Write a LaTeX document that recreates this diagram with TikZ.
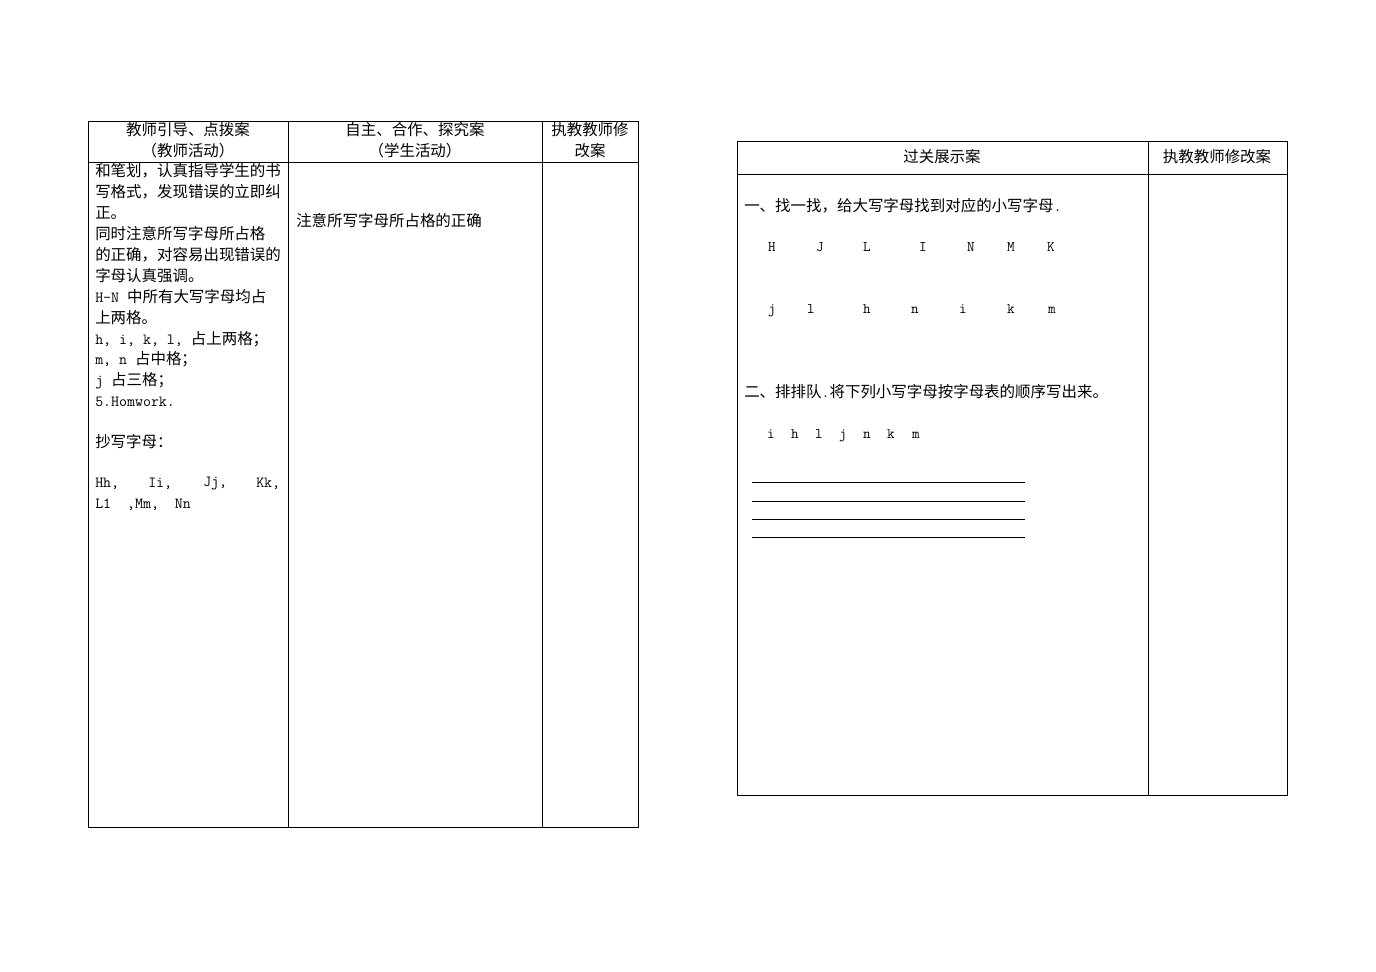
\documentclass[tikz,border=0pt]{standalone}
\usepackage{fontspec}
\setmainfont{Noto Sans CJK SC}
\newcommand{\latf}{\ttfamily}
\begin{document}
\begin{tikzpicture}[x=0.75pt,y=-0.75pt,
  grid/.style={draw=black,line width=0.6pt},
  txt/.style={inner sep=0pt,anchor=west,font=\fontsize{11.6}{13}\selectfont},
  ctxt/.style={inner sep=0pt,anchor=center,font=\fontsize{11.6}{13}\selectfont},
  ltr/.style={inner sep=0pt,anchor=center,text height=7pt,text depth=2pt,font=\latf\fontsize{11}{12}\selectfont},
  wline/.style={draw=black,line width=0.6pt}]
\useasboundingbox (0,0) rectangle (1376,971);
% left table
\draw[grid] (88,121) rectangle (638,827);
\draw[grid] (288,121) -- (288,827);
\draw[grid] (542,121) -- (542,827);
\draw[grid] (88,162) -- (638,162);
\node[ctxt] (h1a) at (188,130) {教师引导、点拨案};
\node[ctxt] (h1b) at (188,151) {（教师活动）};
\node[ctxt] (h2a) at (415,130) {自主、合作、探究案};
\node[ctxt] (h2b) at (415,151) {（学生活动）};
\node[ctxt] (h3a) at (590,130) {执教教师修};
\node[ctxt] (h3b) at (590,151) {改案};
\node[txt] (l1) at (95,171) {和笔划，认真指导学生的书};
\node[txt] (l2) at (95,192) {写格式，发现错误的立即纠};
\node[txt] (l3) at (95,213) {正。};
\node[txt] (l4) at (95,234) {同时注意所写字母所占格};
\node[txt] (l5) at (95,255) {的正确，对容易出现错误的};
\node[txt] (l6) at (95,276) {字母认真强调。};
\node[txt] (l7) at (95,297) {{\latf H-N }中所有大写字母均占};
\node[txt] (l8) at (95,318) {上两格。};
\node[txt] (l9) at (95,339) {{\latf h, i, k, l, }占上两格；};
\node[txt] (l10) at (95,359) {{\latf m, n }占中格；};
\node[txt] (l11) at (95,381) {{\latf j }占三格；};
\node[txt] (l12) at (95,402) {{\latf 5.Homwork.}};
\node[txt] (l13) at (95,442) {抄写字母：};
\node[txt] (l14a) at (95,484) {\latf Hh,};
\node[txt] (l14b) at (148,484) {\latf Ii,};
\node[txt] (l14c) at (203,484) {\latf Jj,};
\node[txt] (l14d) at (256,484) {\latf Kk,};
\node[txt] (l15) at (95,505) {\latf L1\ \ ,Mm,\ \ Nn};
\node[txt] (m1) at (296,221) {注意所写字母所占格的正确};
% right table
\draw[grid] (737,141) rectangle (1287,795);
\draw[grid] (1148,141) -- (1148,795);
\draw[grid] (737,174) -- (1287,174);
\node[ctxt] (r1) at (942,157) {过关展示案};
\node[ctxt] (r2) at (1217,157) {执教教师修改案};
\node[txt] (q1) at (744,206) {一、找一找，给大写字母找到对应的小写字母{\latf .}};
\foreach \c/\x [count=\i] in {H/772,J/820,L/867,I/923,N/971,M/1011,K/1051}
  \node[ltr] (U\i) at (\x,248) {\c};
\foreach \c/\x [count=\i] in {j/772,l/811,h/867,n/915,i/963,k/1011,m/1052}
  \node[ltr] (L\i) at (\x,310) {\c};
\node[txt] (q2) at (744,392) {二、排排队{\latf .}将下列小写字母按字母表的顺序写出来。};
\foreach \c/\x [count=\i] in {i/771,h/795,l/819,j/843,n/867,k/891,m/916}
  \node[ltr] (S\i) at (\x,435) {\c};
\foreach \y [count=\i] in {482,501,519,537} {
  \coordinate (ws\i) at (752,\y);
  \coordinate (we\i) at (1025,\y);
  \draw[wline] (ws\i) -- (we\i);
}
\end{tikzpicture}
\end{document}
